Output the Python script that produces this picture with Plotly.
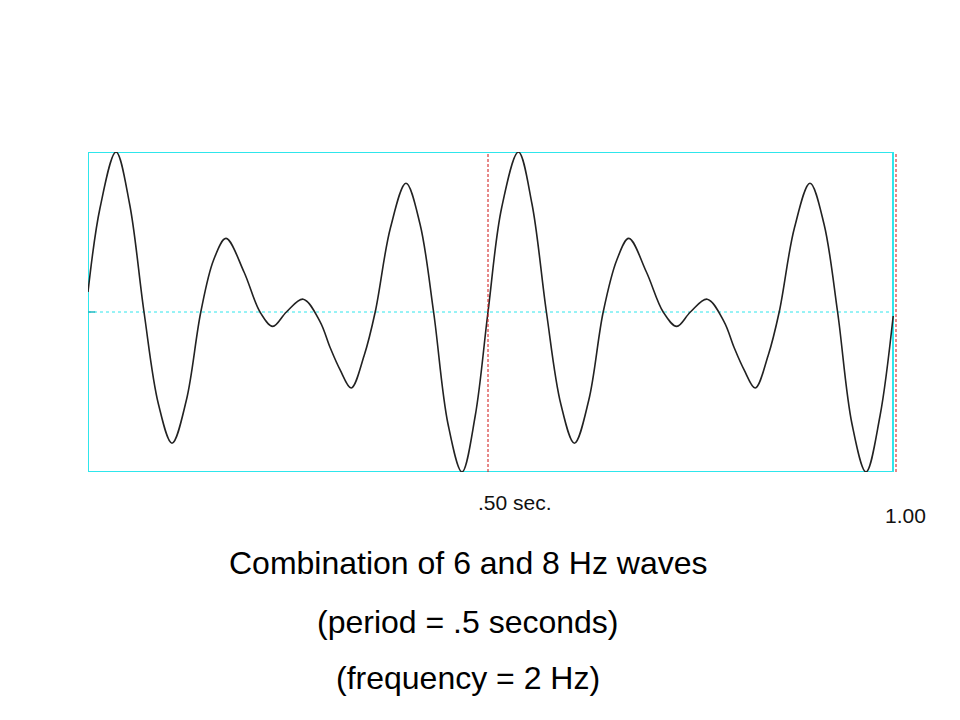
import plotly.graph_objects as go

# Time (s) and amplitude values
time_s = [0.0, 0.015, 0.035, 0.052, 0.070, 0.088, 0.105, 0.123, 0.141, 0.157,
          0.1725, 0.195, 0.215, 0.231, 0.248, 0.269, 0.29, 0.3025, 0.315, 0.329,
          0.345, 0.359, 0.378, 0.3975, 0.415, 0.432, 0.45, 0.4675, 0.484, 0.5,
          0.517, 0.538, 0.555, 0.573, 0.591, 0.608, 0.626, 0.644, 0.661,
          0.676, 0.698, 0.719, 0.736, 0.753, 0.774, 0.795, 0.8075, 0.82, 0.834,
          0.850, 0.864, 0.883, 0.9025, 0.920, 0.937, 0.955, 0.9725, 0.990, 1.0065]
amplitude = [0.25, 1.3, 2.0, 1.35, 0.0, -1.15, -1.64, -1.1, 0.0, 0.65,
             0.92, 0.5, 0.0, -0.18, 0.0, 0.16, -0.12, -0.44, -0.72, -0.95,
             -0.55, 0.0, 1.05, 1.61, 1.1, 0.0, -1.4, -2.0, -1.3, 0.0,
             1.3, 2.0, 1.35, 0.0, -1.15, -1.64, -1.1, 0.0, 0.65,
             0.92, 0.5, 0.0, -0.18, 0.0, 0.16, -0.12, -0.44, -0.72, -0.95,
             -0.55, 0.0, 1.05, 1.61, 1.1, 0.0, -1.4, -2.0, -1.3, -0.05]

frame_t = [0.0, 1.00625]
amp_range = [-2.0, 2.0]
marker_times = [0.5, 1.01]
marker_labels = [".50 sec.", "1.00"]
title_lines = ["Combination of 6 and 8 Hz waves",
               "(period = .5 seconds)",
               "(frequency = 2 Hz)"]

W, H = 960, 720
OFF = 8  # page body margin
fig = go.Figure()
fig.add_trace(go.Scatter(x=time_s, y=amplitude, mode="lines",
                         line=dict(color="#222222", width=1.6, shape="spline", smoothing=1.0),
                         hoverinfo="skip", showlegend=False))

cyan = "#2EE6EC"
shapes = []
shapes.append(dict(type="rect", xref="x", yref="y", x0=frame_t[0], x1=frame_t[1],
                   y0=amp_range[0], y1=amp_range[1], line=dict(color=cyan, width=2),
                   layer="below"))
shapes.append(dict(type="line", xref="x", yref="y", x0=frame_t[0], x1=frame_t[1],
                   y0=0, y1=0, line=dict(color=cyan, width=1, dash="dot"), layer="below"))
shapes.append(dict(type="line", xref="x", yref="y", x0=frame_t[0], x1=0.009,
                   y0=0, y1=0, line=dict(color="#22B8C0", width=1.5), layer="below"))
for t in marker_times:
    shapes.append(dict(type="line", xref="x", yref="y", x0=t, x1=t,
                       y0=amp_range[0], y1=amp_range[1],
                       line=dict(color="#D01010", width=1, dash="3px,2px")))

def px(x, y):
    return (x - OFF) / W, 1 - (y - OFF) / H

annotations = []
for lbl, (ax, ay) in zip(marker_labels, [(515, 502), (905, 515)]):
    xx, yy = px(ax, ay)
    annotations.append(dict(x=xx, y=yy, xref="paper", yref="paper", text=lbl,
                            showarrow=False, xanchor="center", yanchor="middle",
                            font=dict(family="Liberation Sans, Arial", size=21, color="#111111")))
for txt, ty in zip(title_lines, [563, 622, 678]):
    xx, yy = px(468, ty)
    annotations.append(dict(x=xx, y=yy, xref="paper", yref="paper", text=txt,
                            showarrow=False, xanchor="center", yanchor="middle",
                            font=dict(family="Liberation Sans, Arial", size=32, color="#000000")))

fig.update_layout(
    width=W, height=H, margin=dict(l=0, r=0, t=0, b=0),
    paper_bgcolor="white", plot_bgcolor="white",
    xaxis=dict(range=[0, 1.015], domain=[(88 - OFF) / W, (900 - OFF) / W], visible=False, fixedrange=True),
    yaxis=dict(range=amp_range, domain=[(H - 472 + OFF) / H, (H - 152 + OFF) / H], visible=False, fixedrange=True),
    shapes=shapes, annotations=annotations,
)
fig.write_html("out.html")
